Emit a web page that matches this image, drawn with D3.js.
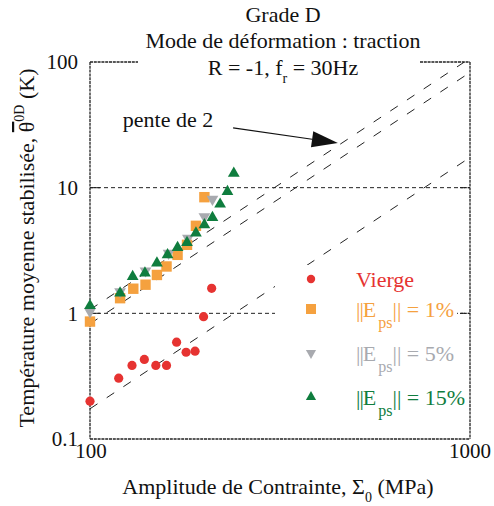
<!DOCTYPE html>
<html><head><meta charset="utf-8">
<script src="https://cdn.jsdelivr.net/npm/d3@7"></script>
<style>
html,body{margin:0;padding:0;background:#fff;}
svg{display:block;font-family:"Liberation Serif","Times New Roman",serif;}
</style></head>
<body><svg id="c" width="494" height="506"></svg>
<script>
// ---------- data ----------
const viergeSigma = [100, 119, 129, 139, 149, 159, 169, 179, 189, 199, 209];
const viergeTheta = [0.20, 0.305, 0.385, 0.43, 0.385, 0.385, 0.59, 0.49, 0.50, 0.94, 1.58];
const eps1Sigma = [100, 120, 130, 140, 150, 159, 170, 180, 190, 200];
const eps1Theta = [0.86, 1.32, 1.57, 1.69, 2.02, 2.36, 2.92, 3.51, 4.97, 8.4];
const eps5Sigma = [100, 120, 140, 161, 181, 200, 210];
const eps5Theta = [1.03, 1.49, 2.18, 3.01, 3.97, 5.89, 8.1];
const eps15Sigma = [100, 120, 129.5, 139.5, 150, 160, 170, 180, 190, 200, 210, 220, 230, 239];
const eps15Theta = [1.15, 1.45, 1.96, 2.09, 2.51, 2.92, 3.34, 3.66, 4.35, 5.06, 5.78, 7.39, 9.31, 13.0];
const slopeCoeffs = [1.07, 0.826, 0.174];   // theta = A * (sigma/100)^2
const xTicks = [100, 1000];
const yTicks = [0.1, 1, 10, 100];
const arrowFrom = [238, 29.9], arrowTo = [449, 22.7], annotPos = [122, 30.5];

const colors = {vierge:"#e63331", e1:"#f5a13f", e5:"#a8aaaf", e15:"#0f7d3e"};

// ---------- scales ----------
const L = 90, R = 470, T = 62, B = 439;
const x = d3.scaleLog().domain([100, 1000]).range([L, R]);
const y = d3.scaleLog().domain([0.1, 100]).range([B, T]);
const svg = d3.select("#c");
const ink = "#222";
const FS = 22;

svg.append("defs").append("clipPath").attr("id","plot")
  .append("rect").attr("x",L).attr("y",T).attr("width",R-L).attr("height",B-T);

// gridlines (dashed)
[10, 1].forEach(v=>{
  svg.append("line").attr("x1",L).attr("x2",R).attr("y1",y(v)).attr("y2",y(v))
    .attr("stroke",ink).attr("stroke-width",1).attr("stroke-dasharray","4,3");
});

// slope-2 lines
const sDom = [100, 1000];
svg.append("g").attr("clip-path","url(#plot)").selectAll("line").data(slopeCoeffs).join("line")
  .attr("x1", x(sDom[0])).attr("x2", x(sDom[1]))
  .attr("y1", a => y(a*Math.pow(sDom[0]/100,2)))
  .attr("y2", a => y(a*Math.pow(sDom[1]/100,2)))
  .attr("stroke", ink).attr("stroke-width",1).attr("stroke-dasharray","9,11");

// legend background box (covers lines)
const lg = {x0:275, y0:265, x1:457, y1:430};
svg.append("rect").attr("x",lg.x0).attr("y",lg.y0).attr("width",lg.x1-lg.x0).attr("height",lg.y1-lg.y0).attr("fill","#fff");

// frame
const frame = svg.append("g").attr("stroke",ink).attr("stroke-width",1.3).attr("fill","none").attr("stroke-dasharray","3,0.8");
frame.append("line").attr("x1",L).attr("x2",L).attr("y1",T).attr("y2",B);
frame.append("line").attr("x1",R).attr("x2",R).attr("y1",T).attr("y2",B);
frame.append("line").attr("x1",L).attr("x2",R).attr("y1",B).attr("y2",B);
frame.append("line").attr("x1",L).attr("x2",138).attr("y1",T).attr("y2",T);
frame.append("line").attr("x1",420).attr("x2",R).attr("y1",T).attr("y2",T);
yTicks.slice(1,3).forEach(v=>{
  frame.append("line").attr("x1",L).attr("x2",L+10).attr("y1",y(v)).attr("y2",y(v)).attr("stroke-dasharray",null);
  frame.append("line").attr("x1",R-10).attr("x2",R).attr("y1",y(v)).attr("y2",y(v)).attr("stroke-dasharray",null);
});

// tick labels
svg.append("g").selectAll("text").data(yTicks).join("text")
  .attr("x",78).attr("y",d=>y(d)).attr("dy","0.35em").attr("text-anchor","end")
  .attr("font-size",21).attr("fill","#111").text(d=>d===0.1?"0.1":String(d));
svg.append("g").selectAll("text").data(xTicks).join("text")
  .attr("x",d=>x(d)+ (d===100?1:0)).attr("y",458).attr("text-anchor","middle")
  .attr("font-size",21).attr("fill","#111").text(d=>String(d));

// markers
function pts(sig, th){ return sig.map((s,i)=>({s, t: th[i]})); }
const gm = svg.append("g");
gm.selectAll(".v").data(pts(viergeSigma, viergeTheta)).join("circle")
  .attr("cx",d=>x(d.s)).attr("cy",d=>y(d.t)).attr("r",4.6).attr("fill",colors.vierge);
gm.selectAll(".e1").data(pts(eps1Sigma, eps1Theta)).join("rect")
  .attr("x",d=>x(d.s)-5.2).attr("y",d=>y(d.t)-5.2).attr("width",10.4).attr("height",10.4).attr("fill",colors.e1);
const triUp = d3.symbol().type(d3.symbolTriangle).size(60);
gm.selectAll(".e5").data(pts(eps5Sigma, eps5Theta)).join("path")
  .attr("d",triUp).attr("transform",d=>`translate(${x(d.s)},${y(d.t)}) rotate(180)`).attr("fill",colors.e5);
gm.selectAll(".e15").data(pts(eps15Sigma, eps15Theta)).join("path")
  .attr("d",triUp).attr("transform",d=>`translate(${x(d.s)},${y(d.t)})`).attr("fill",colors.e15);

// annotation
svg.append("text").attr("x",x(annotPos[0])).attr("y",y(annotPos[1])).attr("font-size",FS).attr("fill","#111").text("pente de 2");
const ax1=x(arrowFrom[0]), ay1=y(arrowFrom[1]), ax2=x(arrowTo[0]), ay2=y(arrowTo[1]);
const ang=Math.atan2(ay2-ay1, ax2-ax1), hl=26, hw=8;
const bx=ax2-hl*Math.cos(ang), by=ay2-hl*Math.sin(ang);
svg.append("line").attr("x1",ax1).attr("y1",ay1).attr("x2",bx).attr("y2",by).attr("stroke","#111").attr("stroke-width",1.2);
svg.append("path").attr("d",`M${ax2},${ay2}L${bx+hw*Math.sin(ang)},${by-hw*Math.cos(ang)}L${bx-hw*Math.sin(ang)},${by+hw*Math.cos(ang)}Z`).attr("fill","#111");

// titles
const tc = 283;
svg.append("text").attr("x",tc).attr("y",22).attr("text-anchor","middle").attr("font-size",FS).attr("fill","#111").text("Grade D");
svg.append("text").attr("x",tc).attr("y",48).attr("text-anchor","middle").attr("font-size",FS).attr("fill","#111").text("Mode de déformation : traction");
const t3 = svg.append("text").attr("x",tc).attr("y",75).attr("text-anchor","middle").attr("font-size",FS).attr("fill","#111");
t3.append("tspan").text("R = -1, f");
t3.append("tspan").attr("dy",8).attr("font-size",14).text("r");
t3.append("tspan").attr("dy",-8).text(" = 30Hz");

// axis titles
const xl = svg.append("text").attr("x",278).attr("y",494).attr("text-anchor","middle").attr("font-size",FS).attr("fill","#111");
xl.append("tspan").text("Amplitude de Contrainte, Σ");
xl.append("tspan").attr("dy",8).attr("font-size",14).text("0");
xl.append("tspan").attr("dy",-8).text(" (MPa)");

const yl = svg.append("text").attr("transform","translate(34,248) rotate(-90)").attr("text-anchor","middle").attr("font-size",FS).attr("fill","#111");
yl.append("tspan").text("Température moyenne stabilisée, ");
yl.append("tspan").style("text-decoration","overline").text("θ");
yl.append("tspan").attr("dy",-10).attr("font-size",14).text("0D");
yl.append("tspan").attr("dy",10).text(" (K)");

// legend
const legendItems = [
  {key:"vierge", label:"Vierge", pct:null, yy:279},
  {key:"e1", label:null, pct:"1%", yy:309},
  {key:"e5", label:null, pct:"5%", yy:353},
  {key:"e15", label:null, pct:"15%", yy:397}
];
const lgG = svg.append("g");
legendItems.forEach(it=>{
  const c = colors[it.key];
  const mx = 311;
  if(it.key==="vierge") lgG.append("circle").attr("cx",mx).attr("cy",it.yy).attr("r",4.2).attr("fill",c);
  if(it.key==="e1") lgG.append("rect").attr("x",mx-5).attr("y",it.yy-5).attr("width",10).attr("height",10).attr("fill",c);
  if(it.key==="e5") lgG.append("path").attr("d",d3.symbol().type(d3.symbolTriangle).size(45)).attr("transform",`translate(${mx},${it.yy}) rotate(180)`).attr("fill",c);
  if(it.key==="e15") lgG.append("path").attr("d",d3.symbol().type(d3.symbolTriangle).size(45)).attr("transform",`translate(${mx},${it.yy})`).attr("fill",c);
  const t = lgG.append("text").attr("x",356).attr("y",it.yy+8).attr("font-size",22).attr("fill",c);
  if(it.label){ t.text(it.label); }
  else {
    t.append("tspan").attr("letter-spacing",-1).text("||E");
    t.append("tspan").attr("dx",3).attr("dy",11).attr("font-size",16).text("ps");
    t.append("tspan").attr("dy",-11).text("|| = "+it.pct);
  }
});
</script></body></html>
